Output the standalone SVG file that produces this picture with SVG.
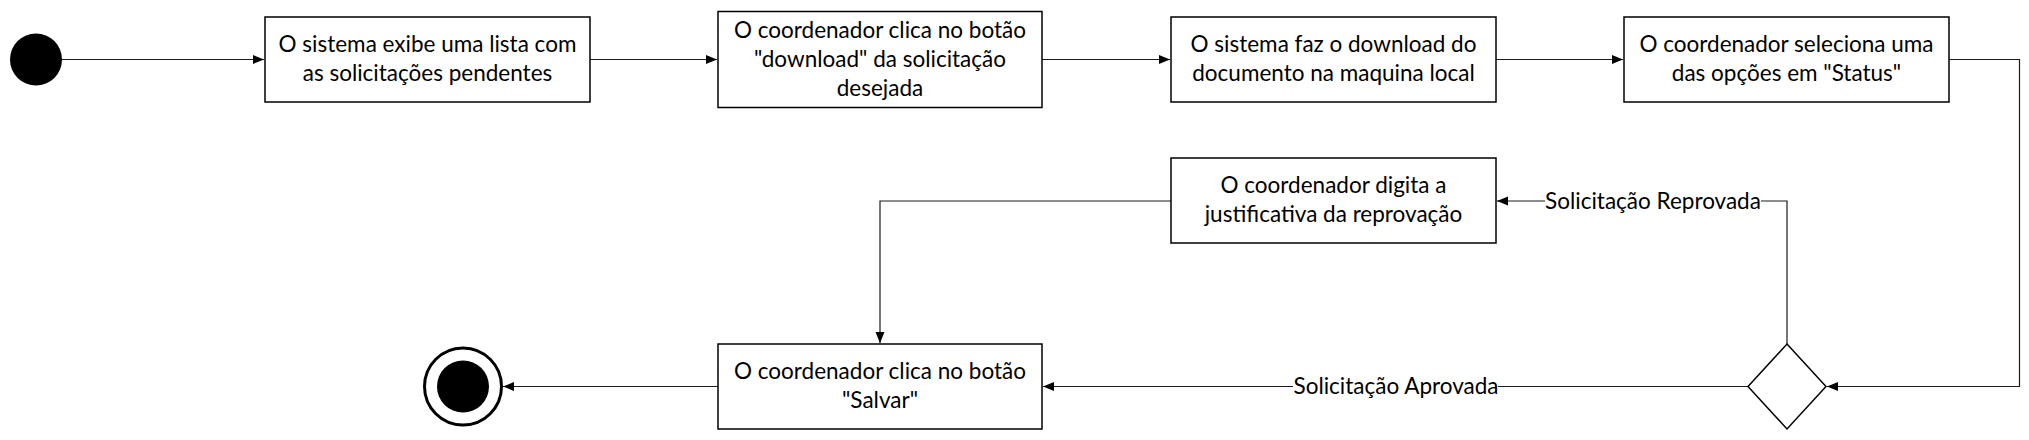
<svg xmlns="http://www.w3.org/2000/svg" width="2029" height="440" viewBox="0 0 2029 440">
<style>
.box{fill:#fff;stroke:#000;stroke-width:1.5}
.t{font-family:Lato,"Open Sans",sans-serif;font-size:22.5px;fill:#000;text-anchor:middle}
.c{fill:none;stroke:#1a1a1a;stroke-width:1.2}
.lbg{fill:#fff}
</style>
<defs>
<marker id="arr" markerUnits="userSpaceOnUse" markerWidth="12" markerHeight="10" refX="11" refY="4.5" orient="auto">
<path d="M0,0 L11,4.5 L0,9 z" fill="#000"/>
</marker>
</defs>
<rect width="2029" height="440" fill="#fff"/>
<g id="connectors">
<path class="c" d="M62,59.5 H264" marker-end="url(#arr)"/>
<path class="c" d="M590,59.5 H717" marker-end="url(#arr)"/>
<path class="c" d="M1042,59.5 H1170" marker-end="url(#arr)"/>
<path class="c" d="M1496,59.5 H1623" marker-end="url(#arr)"/>
<path class="c" d="M1949,59.5 H2019.5 V386.5 H1827" marker-end="url(#arr)"/>
<path class="c" d="M1787,344 V201 H1497" marker-end="url(#arr)"/>
<path class="c" d="M1748,386.5 H1043" marker-end="url(#arr)"/>
<path class="c" d="M1171,201 H880 V343" marker-end="url(#arr)"/>
<path class="c" d="M718,386.5 H503" marker-end="url(#arr)"/>
<rect class="lbg" x="1545" y="188" width="216" height="26"/>
<text class="t" x="1653" y="209">Solicitação Reprovada</text>
<rect class="lbg" x="1293" y="373" width="205" height="26"/>
<text class="t" x="1396" y="394">Solicitação Aprovada</text>
</g>
<g id="start"><circle cx="36" cy="59.5" r="26" fill="#000"/></g>
<g id="n1"><rect class="box" x="265" y="17" width="325" height="85"/>
<text class="t" x="427.5" y="52">O sistema exibe uma lista com</text>
<text class="t" x="427.5" y="81">as solicitações pendentes</text></g>
<g id="n2"><rect class="box" x="718" y="11.5" width="324" height="96"/>
<text class="t" x="880" y="38">O coordenador clica no botão</text>
<text class="t" x="880" y="67">"download" da solicitação</text>
<text class="t" x="880" y="96">desejada</text></g>
<g id="n3"><rect class="box" x="1171" y="17" width="325" height="85"/>
<text class="t" x="1333.5" y="52">O sistema faz o download do</text>
<text class="t" x="1333.5" y="81">documento na maquina local</text></g>
<g id="n4"><rect class="box" x="1624" y="17" width="325" height="85"/>
<text class="t" x="1786.5" y="52">O coordenador seleciona uma</text>
<text class="t" x="1786.5" y="81">das opções em "Status"</text></g>
<g id="n5"><rect class="box" x="1171" y="158" width="325" height="85"/>
<text class="t" x="1333.5" y="193">O coordenador digita a</text>
<text class="t" x="1333.5" y="222">justificativa da reprovação</text></g>
<g id="n6"><rect class="box" x="718" y="344" width="324" height="85"/>
<text class="t" x="880" y="379">O coordenador clica no botão</text>
<text class="t" x="880" y="408">"Salvar"</text></g>
<g id="decision"><path d="M1787,344 L1826,386.5 L1787,429 L1748,386.5 z" fill="#fff" stroke="#000" stroke-width="1.5"/></g>
<g id="end"><circle cx="463" cy="386.5" r="38.5" fill="#fff" stroke="#000" stroke-width="3"/>
<circle cx="463" cy="386.5" r="26" fill="#000"/></g>
</svg>
